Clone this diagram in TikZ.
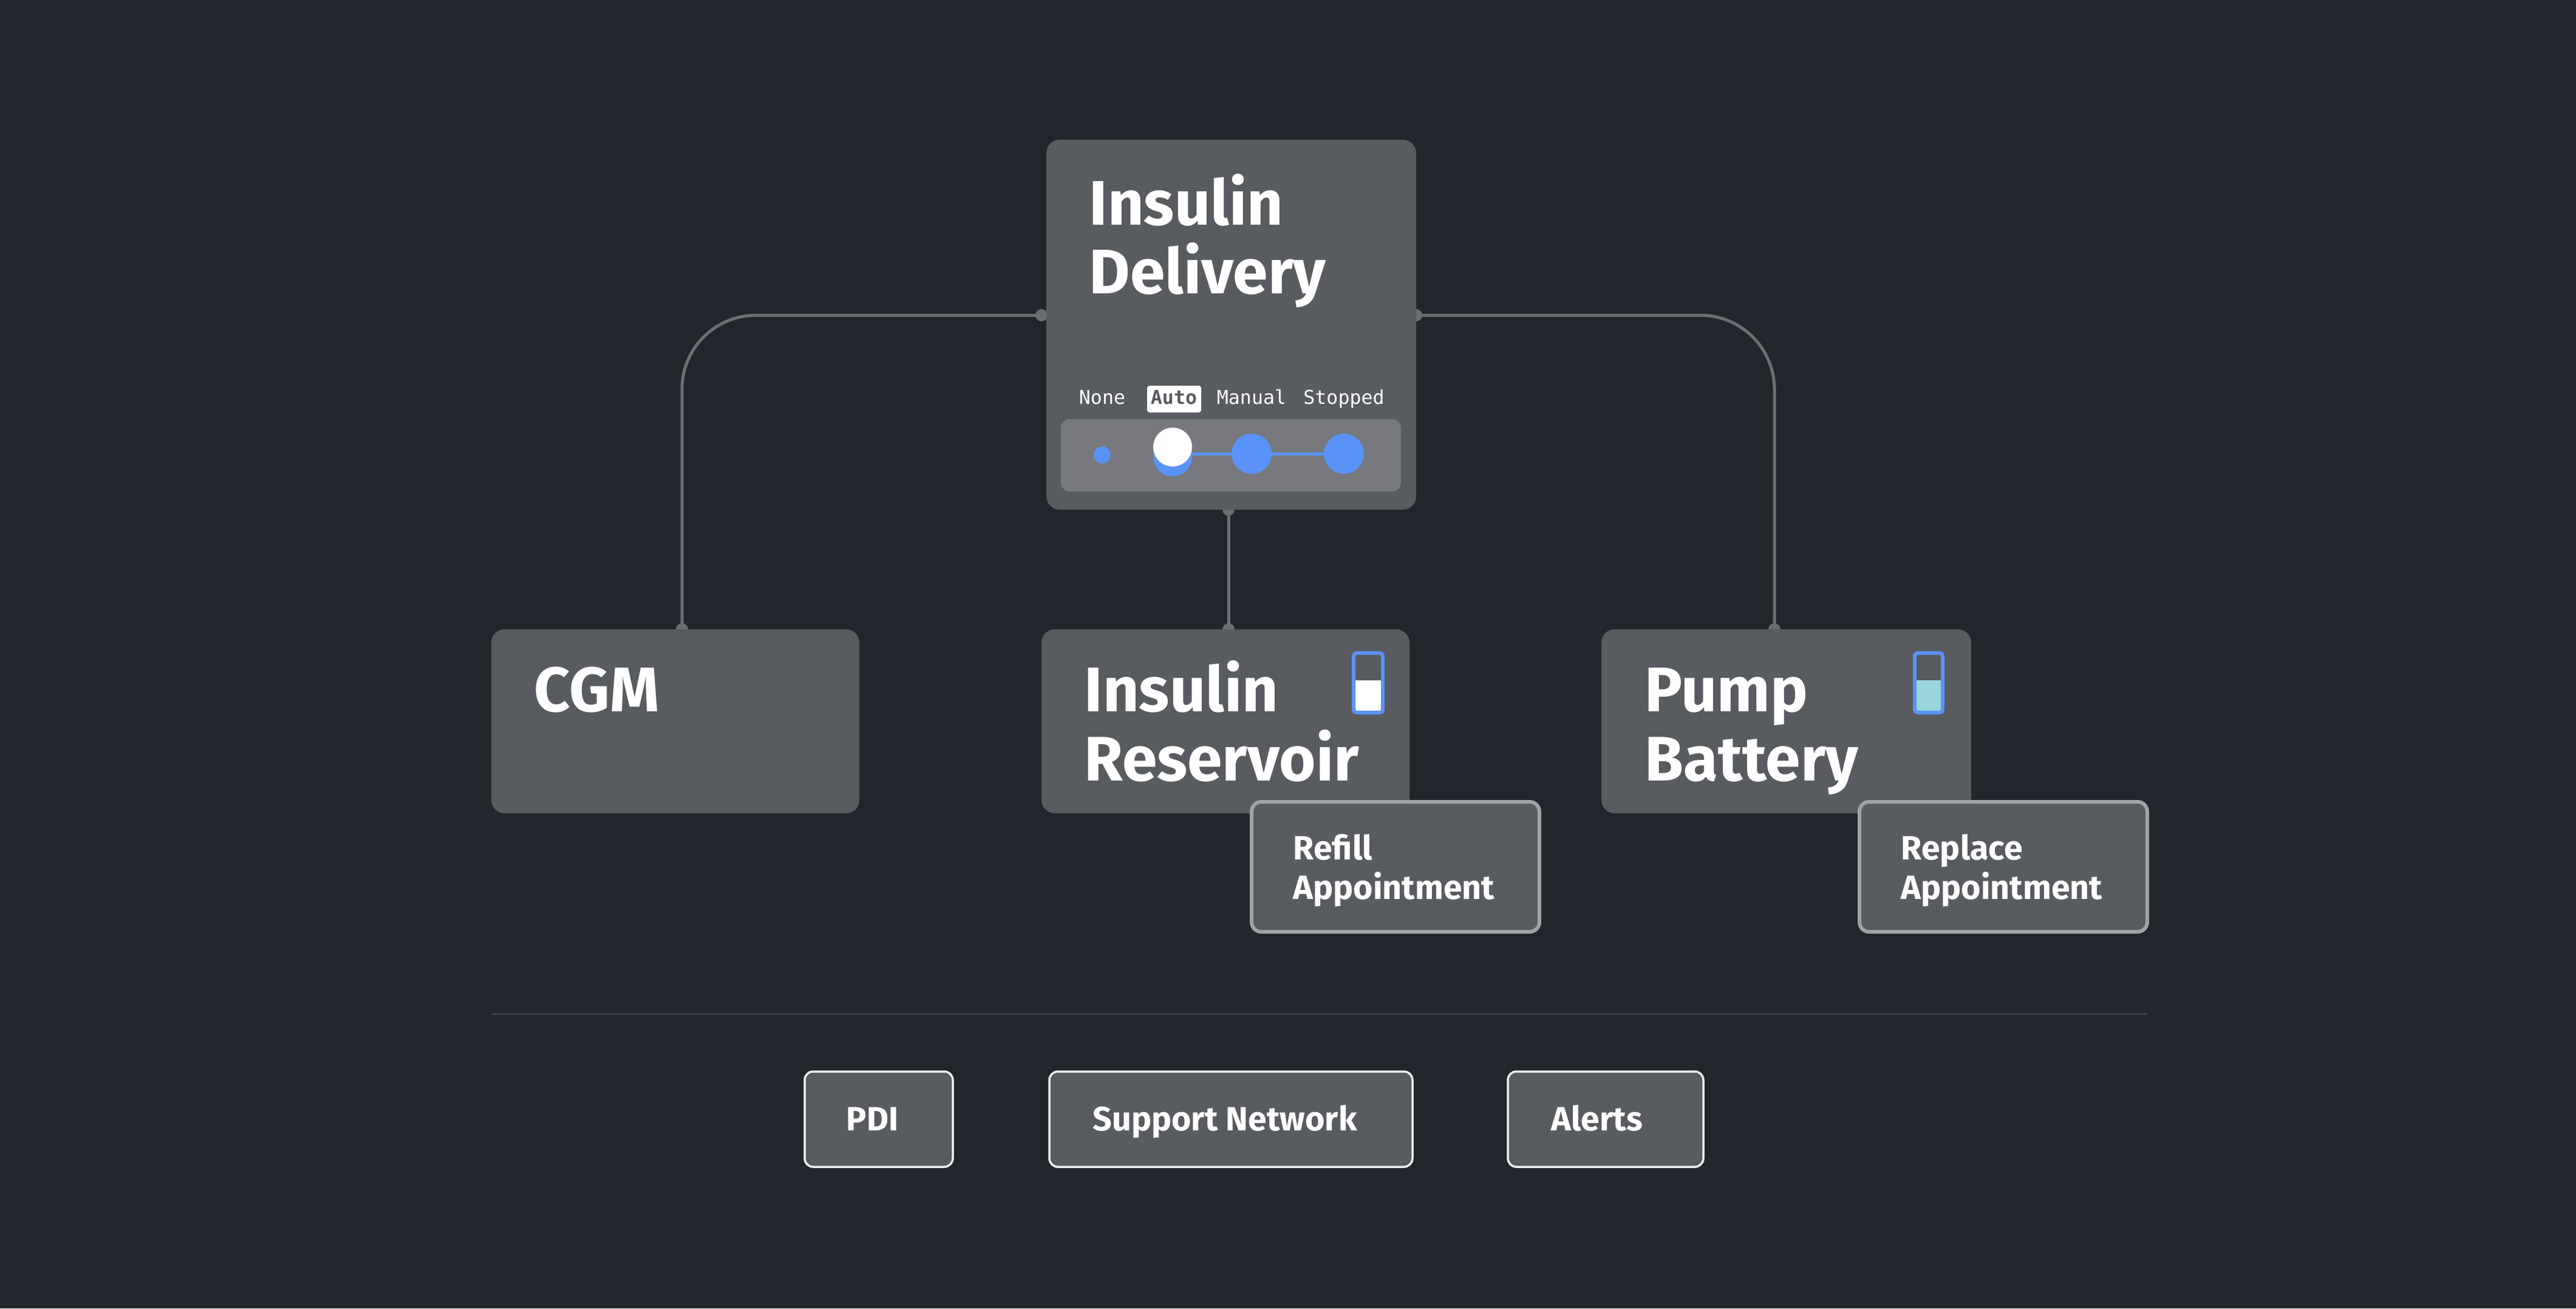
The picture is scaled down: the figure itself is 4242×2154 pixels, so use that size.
\documentclass[tikz,border=0pt]{standalone}
\usepackage{fontspec}
\setmainfont{Fira Sans}
\newfontfamily\monof{DejaVu Sans Mono}
\begin{document}
\definecolor{bg}{HTML}{22252C}
\definecolor{card}{HTML}{585B60}
\definecolor{track}{HTML}{76787D}
\definecolor{blu}{HTML}{5A93F8}
\definecolor{conn}{HTML}{6C6E73}
\definecolor{edge}{HTML}{A0A2A6}
\definecolor{teal}{HTML}{9AD7DC}
\definecolor{divl}{HTML}{3B3F46}
\begin{tikzpicture}[x=0.1mm,y=-0.1mm,
  card/.style={fill=card,rounded corners=2.2mm},
  appt/.style={fill=card,draw=edge,line width=0.6mm,rounded corners=1.6mm},
  btn/.style={fill=card,draw=white!85!gray,line width=0.35mm,rounded corners=1.4mm},
  big/.style={anchor=base west,text=white,font=\bfseries\fontsize{29.5}{32}\selectfont,inner sep=0},
  mid/.style={anchor=base west,text=white,font=\bfseries\fontsize{15.8}{18.5}\selectfont,inner sep=0},
  mono/.style={anchor=base,text=white,font=\monof\fontsize{9}{10}\selectfont,inner sep=0},
  con/.style={draw=conn,line width=0.5mm},
  dot/.style={fill=conn}]
\fill[bg] (0,0) rectangle (4242,2154);
\useasboundingbox (0,0) rectangle (4242,2154);
% connectors
\coordinate (dl) at (1715,519);
\coordinate (dr) at (2332,519);
\coordinate (db) at (2023,839);
\coordinate (ct) at (1123,1036);
\coordinate (rt) at (2023,1036);
\coordinate (pt) at (2922,1036);
\draw[con,rounded corners=12.2mm] (dl) -| (ct);
\draw[con,rounded corners=12.2mm] (dr) -| (pt);
\draw[con] (db) -- (rt);
\foreach \p in {dl,dr,db,ct,rt,pt} \fill[dot] (\p) circle (1mm);
% Insulin Delivery
\path[card] (1723,230) rectangle (2332,839);
\node[big] (idt) at (1793,370) {Insulin};
\node[big] (idt2) at (1793,483) {Delivery};
\node[mono] (mn) at (1815,665) {None};
\fill[white,rounded corners=0.4mm] (1889,635) rectangle (1978,679);
\node[mono,text=card,font=\monof\bfseries\fontsize{9}{10}\selectfont] (ma) at (1933,665) {Auto};
\node[mono] (mm) at (2061,665) {Manual};
\node[mono] (ms) at (2213,665) {Stopped};
\fill[track,rounded corners=1.4mm] (1747,690) rectangle (2307,809);
\draw[blu,line width=0.5mm] (1931,747) -- (2213,747);
\fill[blu] (1815,749) circle (1.4mm);
\fill[blu] (1931,752) circle (3.2mm);
\fill[white] (1931,736) circle (3.2mm);
\fill[blu] (2061,747) circle (3.3mm);
\fill[blu] (2213,747) circle (3.3mm);
% CGM
\path[card] (809,1036) rectangle (1415,1339);
\node[big] (cgm) at (879,1171) {CGM};
% Reservoir
\path[card] (1715,1036) rectangle (2321,1339);
\node[big] (r1) at (1785,1171) {Insulin};
\node[big] (r2) at (1785,1285) {Reservoir};
\fill[white] (2226,1120) rectangle (2280,1170);
\draw[blu,line width=0.6mm,rounded corners=0.5mm] (2229,1075) rectangle (2277,1173);
% Pump
\path[card] (2637,1036) rectangle (3246,1339);
\node[big] (p1) at (2708,1171) {Pump};
\node[big] (p2) at (2708,1285) {Battery};
\fill[teal] (3150,1120) rectangle (3202,1170);
\draw[blu,line width=0.6mm,rounded corners=0.5mm] (3153,1075) rectangle (3199,1173);
% Appointments
\path[appt] (2061,1320) rectangle (2535,1534);
\node[mid] (a1) at (2129,1415) {Refill};
\node[mid] (a2) at (2129,1480) {Appointment};
\path[appt] (3062,1320) rectangle (3536,1534);
\node[mid] (b1) at (3130,1415) {Replace};
\node[mid] (b2) at (3130,1480) {Appointment};
% divider
\draw[divl,line width=0.3mm] (809,1669) -- (3536,1669);
% buttons
\path[btn] (1325,1764) rectangle (1569,1921);
\node[mid] (pdi) at (1393,1861) {PDI};
\path[btn] (1728,1764) rectangle (2326,1921);
\node[mid] (sn) at (1799,1861) {Support Network};
\path[btn] (2483,1764) rectangle (2805,1921);
\node[mid] (al) at (2554,1861) {Alerts};
\end{tikzpicture}
\end{document}
